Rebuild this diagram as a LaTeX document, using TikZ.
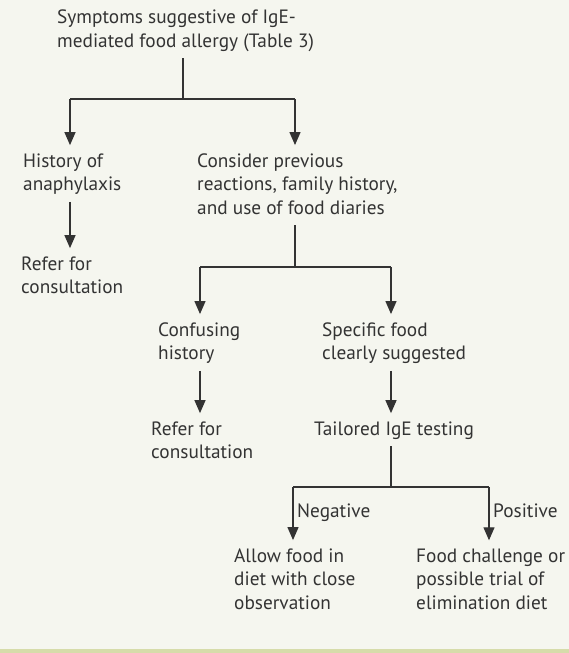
\documentclass[tikz,border=0pt]{standalone}
\usepackage{fontspec}
\setmainfont{PT Sans}
\usetikzlibrary{arrows.meta}
\definecolor{bg}{HTML}{F5F6EF}
\definecolor{band}{HTML}{D6DCAA}
\definecolor{ink}{HTML}{333333}
\begin{document}
\begin{tikzpicture}[x=1pt,y=-1pt,
  txt/.style={anchor=base west, inner sep=0pt, align=left, text=ink,
    font=\fontsize{19.3}{23.5}\selectfont,
    execute at begin node={\vphantom{Ig}}, execute at end node={\vphantom{g}}},
  lbl/.style={anchor=base west, inner sep=0pt, text=ink, font=\fontsize{19.3}{23.5}\selectfont},
  conn/.style={draw=ink, line width=1.25pt},
  arr/.style={conn, -{Triangle[length=13pt,width=11pt]}, shorten >=8pt},
  stem/.style={shorten <=7pt}]
\fill[bg] (0,0) rectangle (569,653);
\fill[band] (0,649) rectangle (569,653);
\useasboundingbox (0,0) rectangle (569,653);

% anchors are at the baseline of the last line
\node[txt] (title) at (57,47) {Symptoms suggestive of IgE-\\mediated food allergy (Table 3)};
\node[txt] (hist) at (23,190.5) {History of\\anaphylaxis};
\node[txt] (cons) at (197,214) {Consider previous\\reactions, family history,\\and use of food diaries};
\node[txt] (ref1) at (21,293.5) {Refer for\\consultation};
\node[txt] (conf) at (158,359.5) {Confusing\\history};
\node[txt] (spec) at (322,359.5) {Specific food\\clearly suggested};
\node[txt] (ref2) at (151,458.5) {Refer for\\consultation};
\node[txt] (tail) at (314,435) {Tailored IgE testing};
\node[txt] (allow) at (234,609) {Allow food in\\diet with close\\observation};
\node[txt] (chal) at (416,609) {Food challenge or\\possible trial of\\elimination diet};
\node[lbl] (neg) at (297,517) {Negative};
\node[lbl] (pos) at (493,517) {Positive};

\coordinate (j1) at (183,99);
\coordinate (a) at (70,99);
\coordinate (b) at (295,99);
\draw[conn,stem] (j1 |- title.south) -- (j1);
\draw[conn] (a) -- (b);
\draw[arr] (a) -- (a |- hist.north);
\draw[arr] (b) -- (b |- cons.north);
\draw[arr,stem] (a |- hist.south) -- (a |- ref1.north);

\coordinate (j2) at (295,267);
\coordinate (c) at (200,267);
\coordinate (d) at (391,267);
\draw[conn,stem] (j2 |- cons.south) -- (j2);
\draw[conn] (c) -- (d);
\draw[arr] (c) -- (c |- conf.north);
\draw[arr] (d) -- (d |- spec.north);
\draw[arr,stem] (c |- conf.south) -- (c |- ref2.north);
\draw[arr,stem] (d |- spec.south) -- (d |- tail.north);

\coordinate (j3) at (391,487);
\coordinate (e) at (293,487);
\coordinate (f) at (489,487);
\draw[conn,stem] (j3 |- tail.south) -- (j3);
\draw[conn] (e) -- (f);
\draw[arr] (e) -- (e |- allow.north);
\draw[arr] (f) -- (f |- chal.north);
\end{tikzpicture}
\end{document}
